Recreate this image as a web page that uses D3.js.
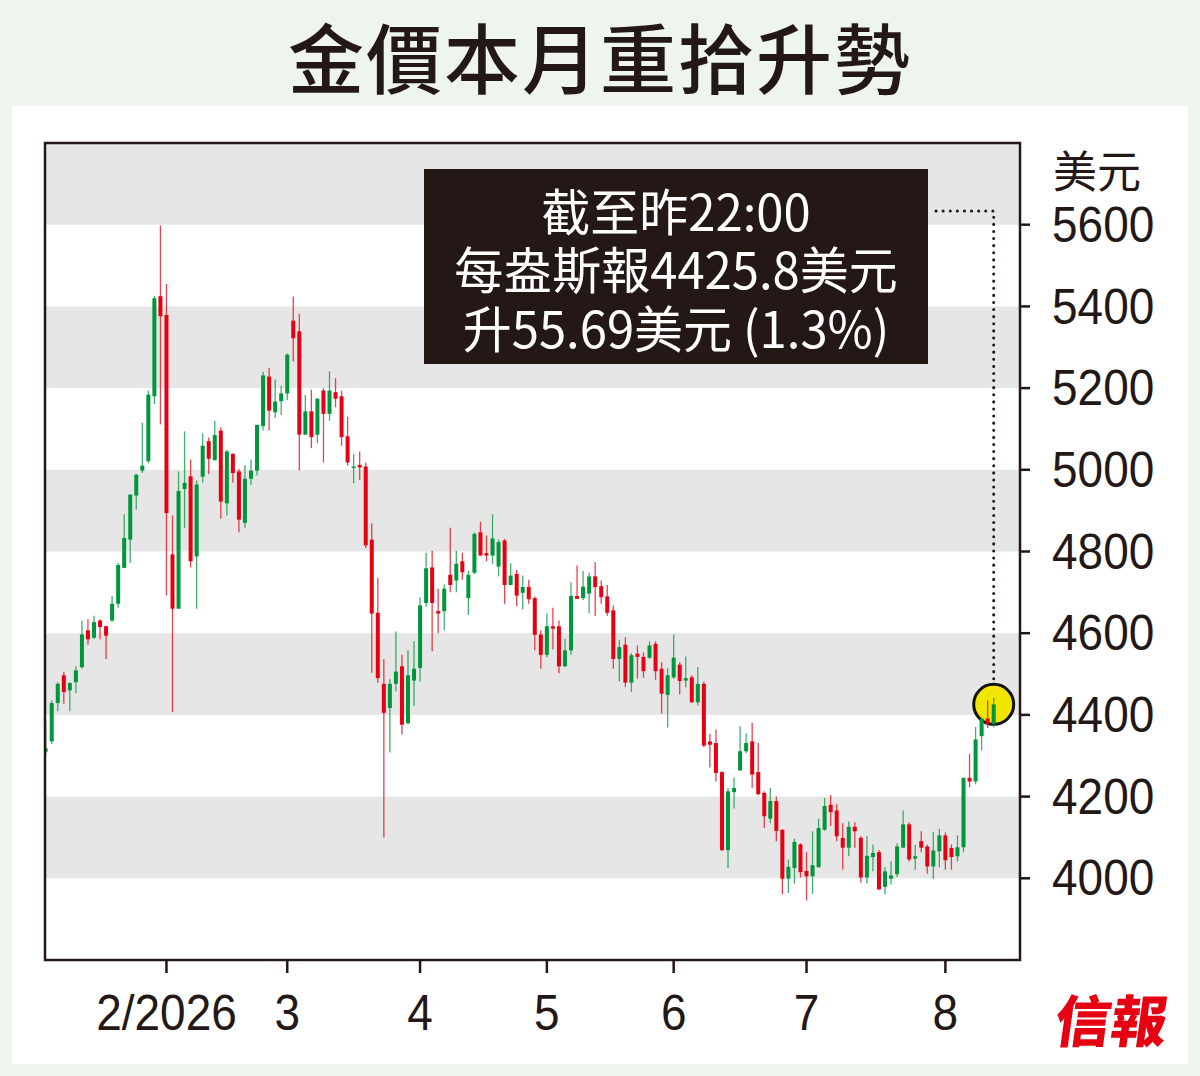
<!DOCTYPE html>
<html>
<head>
<meta charset="utf-8">
<script src="https://cdn.jsdelivr.net/npm/d3@7"></script>
<style>
  body { margin: 0; background: #edf5ee; }
  svg { display: block; }
</style>
</head>
<body>
<div id="chart"></div>
<script>
// daily gold candles, Jan 2 - Aug 12 2026 (US$/oz)
const holidays = ["2026-01-01", "2026-04-03"];

const opens = [
  4310, 4335, 4429, 4497, 4460, 4480, 4517, 4607, 4589, 4631, 4617, 4631, 4672, 4760, 4829, 4937, 4998, 5021, 5180, 5425,
  5379, 4793, 4660, 4953, 4984, 4788, 4983, 5070, 5024, 5096, 4918, 5039, 4996, 4870, 4978, 4998, 5107, 5228, 5141, 5168,
  5187, 5365, 5339, 5086, 5143, 5086, 5194, 5137, 5190, 5180, 5082, 5005, 5012, 5008, 4829, 4650, 4476, 4417, 4476, 4519,
  4380, 4484, 4515, 4674, 4761, 4654, 4654, 4743, 4729, 4776, 4686, 4748, 4847, 4796, 4790, 4763, 4827, 4718, 4745, 4699,
  4713, 4686, 4597, 4547, 4617, 4617, 4519, 4558, 4691, 4686, 4697, 4739, 4715, 4690, 4656, 4537, 4572, 4479, 4550, 4542,
  4540, 4574, 4513, 4449, 4492, 4523, 4484, 4492, 4431, 4476, 4335, 4331, 4260, 4069, 4211, 4264, 4311, 4335, 4260, 4209,
  4146, 4189, 4119, 3999, 4025, 4083, 4018, 4005, 4027, 4119, 4180, 4166, 4099, 4075, 4126, 4099, 4002, 4052, 4064, 3979,
  3999, 4010, 4075, 4132, 4048, 4091, 4078, 4029, 4066, 4105, 4074, 4054, 4076, 4246, 4237, 4348, 4391, 4378
];
const highs = [
  4386, 4435, 4480, 4505, 4480, 4519, 4631, 4634, 4643, 4634, 4619, 4691, 4771, 4891, 4941, 4990, 5115, 5194, 5426, 5598,
  5455, 4888, 4996, 5094, 5025, 4974, 5089, 5079, 5120, 5104, 5049, 5040, 5002, 5012, 5025, 5110, 5240, 5249, 5221, 5206,
  5285, 5424, 5382, 5183, 5196, 5176, 5200, 5241, 5224, 5194, 5130, 5039, 5045, 5018, 4869, 4736, 4536, 4487, 4604, 4547,
  4558, 4581, 4688, 4797, 4802, 4709, 4719, 4858, 4802, 4797, 4753, 4847, 4873, 4839, 4891, 4829, 4831, 4771, 4755, 4741,
  4731, 4690, 4607, 4648, 4662, 4631, 4586, 4725, 4766, 4752, 4748, 4774, 4729, 4718, 4668, 4584, 4590, 4551, 4570, 4553,
  4580, 4580, 4529, 4515, 4597, 4529, 4543, 4497, 4517, 4482, 4354, 4364, 4262, 4221, 4246, 4372, 4355, 4381, 4331, 4213,
  4221, 4200, 4119, 4046, 4097, 4086, 4064, 4115, 4146, 4197, 4203, 4181, 4135, 4139, 4137, 4103, 4103, 4083, 4069, 4027,
  4042, 4086, 4166, 4137, 4082, 4115, 4082, 4113, 4121, 4112, 4083, 4105, 4246, 4305, 4370, 4394, 4435, 4442
];
const lows = [
  4300, 4329, 4409, 4427, 4409, 4453, 4513, 4572, 4586, 4585, 4537, 4628, 4662, 4760, 4772, 4902, 4992, 5016, 5161, 5111,
  4692, 4407, 4660, 4858, 4761, 4660, 4969, 4990, 5022, 4880, 4888, 4969, 4847, 4858, 4963, 4986, 5096, 5096, 5127, 5134,
  5171, 5265, 4998, 5086, 5053, 5065, 5018, 5120, 5153, 5059, 5010, 4967, 4975, 4808, 4503, 4479, 4100, 4308, 4457, 4352,
  4376, 4422, 4482, 4665, 4556, 4600, 4607, 4700, 4700, 4731, 4645, 4745, 4790, 4776, 4770, 4739, 4672, 4718, 4666, 4658,
  4672, 4558, 4513, 4541, 4560, 4502, 4517, 4547, 4686, 4681, 4648, 4642, 4672, 4643, 4513, 4482, 4468, 4456, 4489, 4491,
  4537, 4486, 4403, 4369, 4488, 4450, 4467, 4429, 4423, 4321, 4271, 4237, 4066, 4025, 4171, 4264, 4306, 4221, 4203, 4123,
  4135, 4091, 3961, 3964, 3987, 4002, 3946, 3962, 4027, 4116, 4128, 4091, 4021, 4054, 4075, 3989, 3987, 4017, 3971, 3961,
  3985, 4003, 4075, 4041, 4021, 4064, 4011, 3999, 4027, 4021, 4021, 4041, 4064, 4223, 4230, 4313, 4368, 4370
];
const closes = [
  4318, 4429, 4476, 4456, 4478, 4509, 4597, 4585, 4627, 4615, 4594, 4672, 4767, 4833, 4939, 4988, 5010, 5184, 5420, 5376,
  4894, 4660, 4948, 4968, 4776, 4964, 5059, 5027, 5085, 4922, 5045, 4992, 4878, 4978, 4998, 5110, 5231, 5145, 5167, 5187,
  5282, 5322, 5086, 5143, 5080, 5174, 5137, 5194, 5174, 5080, 5018, 5008, 5006, 4815, 4648, 4490, 4405, 4476, 4506, 4376,
  4497, 4513, 4668, 4759, 4674, 4648, 4709, 4718, 4770, 4749, 4743, 4843, 4790, 4790, 4832, 4823, 4718, 4741, 4692, 4713,
  4683, 4596, 4547, 4617, 4611, 4519, 4558, 4691, 4684, 4714, 4739, 4713, 4688, 4650, 4537, 4566, 4479, 4546, 4542, 4507,
  4570, 4507, 4452, 4497, 4540, 4483, 4490, 4431, 4476, 4325, 4327, 4258, 4069, 4213, 4221, 4311, 4331, 4254, 4206, 4152,
  4189, 4116, 3999, 4028, 4089, 4015, 4005, 4032, 4123, 4177, 4162, 4103, 4075, 4126, 4115, 4002, 4055, 4062, 3973, 4017,
  4007, 4078, 4132, 4046, 4054, 4075, 4029, 4068, 4105, 4044, 4052, 4076, 4246, 4237, 4340, 4391, 4378, 4425.8
];

// month ticks sit on the last trading day of the previous month
const tickDates = ["2026-01-30", "2026-02-27", "2026-03-31", "2026-04-30", "2026-05-29", "2026-06-30", "2026-07-31"];
const tickLabels = ["2/2026", "3", "4", "5", "6", "7", "8"];

const yTicks = [4000, 4200, 4400, 4600, 4800, 5000, 5200, 5400, 5600];
const greyBands = [[4000, 4200], [4400, 4600], [4800, 5000], [5200, 5400], [5600, 5800]];

const titleText = "金價本月重拾升勢";
const unitText = "美元";
const noteLines = ["截至昨22:00", "每盎斯報4425.8美元", "升55.69美元 (1.3%)"];

const svgWidth = 1200;
const svgHeight = 1076;
const margin = { top: 143, right: 180, bottom: 116, left: 45 };
const width = svgWidth - margin.left - margin.right;
const height = svgHeight - margin.top - margin.bottom;

const UP = "#00963c";
const DOWN = "#e60012";
const cjk = "'Noto Sans CJK TC', 'Noto Sans CJK SC', sans-serif";
const num = "'Liberation Sans', Arial, sans-serif";

// trading days (weekdays minus holidays)
const fmt = d3.timeFormat("%Y-%m-%d");
const dates = d3.timeDay.range(new Date(2026, 0, 2), new Date(2026, 7, 13))
  .filter(d => d.getDay() !== 0 && d.getDay() !== 6)
  .map(fmt)
  .filter(d => !holidays.includes(d));

const bars = dates.map((date, i) => ({
  date: date, open: opens[i], high: highs[i], low: lows[i], close: closes[i]
}));

const svg = d3.select("#chart")
  .append("svg")
  .attr("width", svgWidth)
  .attr("height", svgHeight);

svg.append("rect")
  .attr("width", svgWidth).attr("height", svgHeight)
  .attr("fill", "#edf5ee");

svg.append("rect")
  .attr("x", 12).attr("y", 106)
  .attr("width", 1176).attr("height", 958)
  .attr("fill", "#ffffff");

svg.append("text")
  .attr("x", svgWidth / 2)
  .attr("y", 55)
  .attr("text-anchor", "middle")
  .attr("dominant-baseline", "central")
  .attr("font-family", cjk)
  .attr("font-weight", 500)
  .attr("font-size", 76)
  .attr("letter-spacing", 2)
  .attr("fill", "#231815")
  .text(titleText);

const chartGroup = svg.append("g")
  .attr("transform", `translate(${margin.left}, ${margin.top})`);

const xScale = d3.scalePoint()
  .domain(dates)
  .range([0.7, width - 26.3]);

const yScale = d3.scaleLinear()
  .domain([3800, 5800])
  .range([height, 0]);

svg.append("defs").append("clipPath")
  .attr("id", "plotClip")
  .append("rect")
  .attr("width", width).attr("height", height);

// background bands
chartGroup.append("g")
  .selectAll("rect")
  .data(greyBands)
  .join("rect")
  .attr("x", 0)
  .attr("width", width)
  .attr("y", d => yScale(d[1]))
  .attr("height", d => yScale(d[0]) - yScale(d[1]))
  .attr("fill", "#e6e6e6");

// highlight circle + dotted leader to the note box
const last = bars[bars.length - 1];
const lx = xScale(last.date);
const ly = yScale(last.close);
const radius = 20;

const box = { x: 379, y: 26, w: 504, h: 195 };
const lineY = box.y + 42;

chartGroup.append("path")
  .attr("d", `M${box.x + box.w + 8},${lineY} H${lx} V${ly - radius - 4}`)
  .attr("fill", "none")
  .attr("stroke", "#231815")
  .attr("stroke-width", 3)
  .attr("stroke-linecap", "round")
  .attr("stroke-dasharray", "0.1 7");

chartGroup.append("circle")
  .attr("cx", lx)
  .attr("cy", ly)
  .attr("r", radius)
  .attr("fill", "#f2e500")
  .attr("stroke", "#111")
  .attr("stroke-width", 3);

// candles
const candles = chartGroup.append("g")
  .attr("clip-path", "url(#plotClip)")
  .selectAll("g")
  .data(bars)
  .join("g")
  .attr("fill", d => d.close >= d.open ? UP : DOWN)
  .attr("stroke", d => d.close >= d.open ? UP : DOWN);

candles.append("line")
  .attr("x1", d => xScale(d.date))
  .attr("x2", d => xScale(d.date))
  .attr("y1", d => yScale(d.high))
  .attr("y2", d => yScale(d.low))
  .attr("stroke-width", 1.3)
  .attr("stroke-opacity", 0.75);

candles.append("rect")
  .attr("x", d => xScale(d.date) - 2)
  .attr("width", 4)
  .attr("y", d => yScale(Math.max(d.open, d.close)))
  .attr("height", d => Math.max(1.5, Math.abs(yScale(d.open) - yScale(d.close))))
  .attr("stroke", "none");

// note box
chartGroup.append("rect")
  .attr("x", box.x).attr("y", box.y)
  .attr("width", box.w).attr("height", box.h)
  .attr("fill", "#231815");

chartGroup.append("g")
  .selectAll("text")
  .data(noteLines)
  .join("text")
  .attr("transform", (d, i) => `translate(${box.x + box.w / 2}, ${box.y + 40 + i * 58.5}) scale(0.98, 1)`)
  .attr("text-anchor", "middle")
  .attr("dominant-baseline", "central")
  .attr("font-family", cjk)
  .attr("font-size", 50)
  .attr("fill", "#ffffff")
  .text(d => d);

// frame
chartGroup.append("rect")
  .attr("width", width).attr("height", height)
  .attr("fill", "none")
  .attr("stroke", "#231815")
  .attr("stroke-width", 2.5);

// x axis
const xAxis = chartGroup.append("g")
  .attr("transform", `translate(0, ${height})`);

xAxis.selectAll("line")
  .data(tickDates)
  .join("line")
  .attr("x1", d => xScale(d)).attr("x2", d => xScale(d))
  .attr("y1", 0).attr("y2", 13)
  .attr("stroke", "#231815")
  .attr("stroke-width", 2.5);

xAxis.selectAll("text")
  .data(tickDates)
  .join("text")
  .attr("transform", d => `translate(${xScale(d)}, 70) scale(0.92, 1)`)
  .attr("text-anchor", "middle")
  .attr("font-family", num)
  .attr("font-size", 50)
  .attr("fill", "#231815")
  .text((d, i) => tickLabels[i]);

// y axis on the right
const yAxis = chartGroup.append("g")
  .attr("transform", `translate(${width}, 0)`);

yAxis.selectAll("line")
  .data(yTicks)
  .join("line")
  .attr("x1", 0).attr("x2", 10)
  .attr("y1", d => yScale(d)).attr("y2", d => yScale(d))
  .attr("stroke", "#231815")
  .attr("stroke-width", 2.5);

yAxis.selectAll("text")
  .data(yTicks)
  .join("text")
  .attr("transform", d => `translate(32, ${yScale(d)}) scale(0.92, 1)`)
  .attr("dominant-baseline", "central")
  .attr("font-family", num)
  .attr("font-size", 50)
  .attr("fill", "#231815")
  .text(d => d);

yAxis.append("text")
  .attr("x", 33)
  .attr("y", 169 - margin.top)
  .attr("dominant-baseline", "central")
  .attr("font-family", cjk)
  .attr("font-size", 44)
  .attr("fill", "#231815")
  .text(unitText);

// masthead
svg.append("text")
  .attr("transform", "translate(1112, 1018) skewX(-8)")
  .attr("text-anchor", "middle")
  .attr("dominant-baseline", "central")
  .attr("font-family", cjk)
  .attr("font-weight", 900)
  .attr("font-size", 56)
  .attr("fill", "#e50012")
  .text("信報");
</script>
</body>
</html>
